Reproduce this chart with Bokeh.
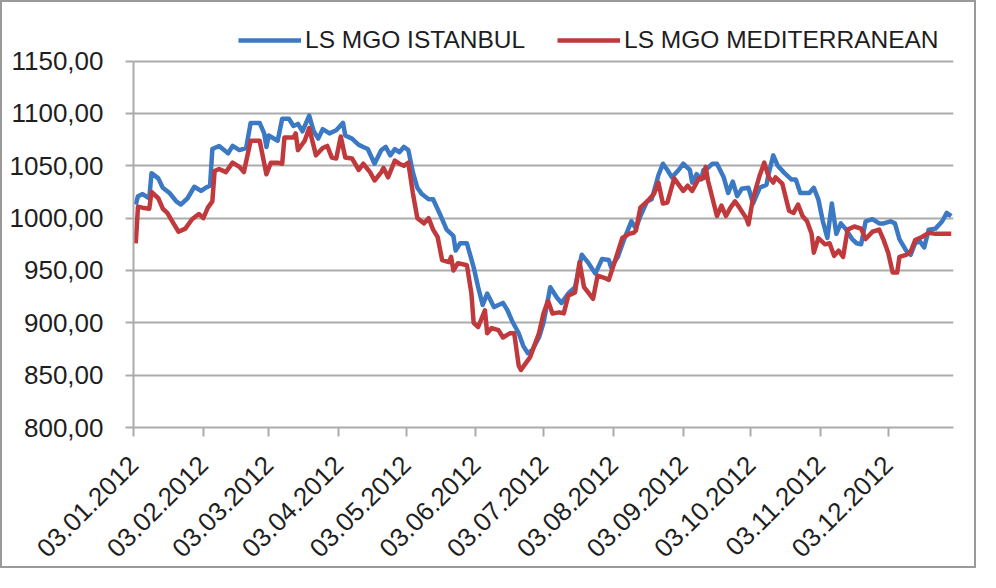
import math
import pandas as pd
from bokeh.plotting import figure
from bokeh.models import Range1d, FixedTicker, DatetimeTickFormatter, Legend, LegendItem
from bokeh.embed import file_html
from bokeh.resources import INLINE

# ---- data ----
ist_dates = ["2012-01-04", "2012-01-05", "2012-01-07", "2012-01-10", "2012-01-11", "2012-01-14", "2012-01-16",
             "2012-01-19", "2012-01-22", "2012-01-24", "2012-01-27", "2012-01-30", "2012-02-02", "2012-02-04",
             "2012-02-06", "2012-02-07", "2012-02-10", "2012-02-14", "2012-02-16", "2012-02-19", "2012-02-22",
             "2012-02-24", "2012-02-28", "2012-03-01", "2012-03-02", "2012-03-03", "2012-03-07", "2012-03-09",
             "2012-03-12", "2012-03-14", "2012-03-16", "2012-03-18", "2012-03-21", "2012-03-23", "2012-03-25",
             "2012-03-27", "2012-03-30", "2012-04-02", "2012-04-05", "2012-04-06", "2012-04-09", "2012-04-12",
             "2012-04-14", "2012-04-16", "2012-04-19", "2012-04-22", "2012-04-24", "2012-04-26", "2012-04-28",
             "2012-04-30", "2012-05-02", "2012-05-04", "2012-05-06", "2012-05-08", "2012-05-10", "2012-05-13",
             "2012-05-15", "2012-05-18", "2012-05-21", "2012-05-24", "2012-05-25", "2012-05-27", "2012-05-30",
             "2012-06-02", "2012-06-04", "2012-06-06", "2012-06-08", "2012-06-11", "2012-06-13", "2012-06-15",
             "2012-06-17", "2012-06-19", "2012-06-22", "2012-06-24", "2012-06-26", "2012-06-28", "2012-07-01",
             "2012-07-03", "2012-07-06", "2012-07-09", "2012-07-11", "2012-07-14", "2012-07-17", "2012-07-20",
             "2012-07-23", "2012-07-26", "2012-07-29", "2012-08-01", "2012-08-02", "2012-08-05", "2012-08-08",
             "2012-08-11", "2012-08-13", "2012-08-15", "2012-08-18", "2012-08-20", "2012-08-22", "2012-08-23",
             "2012-08-25", "2012-08-27", "2012-08-29", "2012-09-01", "2012-09-03", "2012-09-06", "2012-09-07",
             "2012-09-09", "2012-09-11", "2012-09-12", "2012-09-14", "2012-09-16", "2012-09-18", "2012-09-21",
             "2012-09-23", "2012-09-25", "2012-09-27", "2012-09-29", "2012-10-02", "2012-10-04", "2012-10-07",
             "2012-10-10", "2012-10-11", "2012-10-13", "2012-10-15", "2012-10-18", "2012-10-21", "2012-10-23",
             "2012-10-25", "2012-10-29", "2012-10-31", "2012-11-02", "2012-11-04", "2012-11-06", "2012-11-08",
             "2012-11-10", "2012-11-12", "2012-11-14", "2012-11-17", "2012-11-19", "2012-11-21", "2012-11-23",
             "2012-11-26", "2012-11-29", "2012-12-01", "2012-12-04", "2012-12-06", "2012-12-08", "2012-12-11",
             "2012-12-13", "2012-12-15", "2012-12-17", "2012-12-19", "2012-12-21", "2012-12-24", "2012-12-27",
             "2012-12-29", "2012-12-31"]
ist_vals = [1013, 1021, 1023, 1019, 1043, 1038, 1029,
            1024, 1016, 1013, 1019, 1030, 1026, 1029,
            1031, 1066, 1069, 1062, 1069, 1065, 1067,
            1091, 1091, 1081, 1068, 1079, 1074, 1095,
            1095, 1088, 1090, 1083, 1098, 1083, 1076,
            1085, 1081, 1084, 1091, 1079, 1076, 1070,
            1068, 1066, 1052, 1065, 1068, 1060, 1066,
            1063, 1068, 1065, 1044, 1029, 1023, 1018,
            1018, 1004, 989, 983, 969, 976, 976,
            953, 934, 917, 928, 915, 917, 919,
            912, 902, 890, 878, 871, 874, 886,
            900, 934, 924, 919, 928, 934, 965,
            957, 947, 961, 960, 953, 963, 981,
            997, 990, 1002, 1016, 1018, 1033, 1041,
            1052, 1046, 1039, 1046, 1052, 1046, 1034,
            1042, 1037, 1046, 1048, 1052, 1052, 1039,
            1024, 1035, 1021, 1028, 1029, 1014, 1029,
            1032, 1043, 1060, 1050, 1043, 1037, 1037,
            1024, 1024, 1029, 1018, 997, 981, 1014,
            985, 995, 990, 980, 976, 975, 997,
            999, 995, 995, 997, 995, 980, 969,
            965, 976, 978, 972, 989, 990, 997,
            1005, 1002]

med_dates = ["2012-01-04", "2012-01-05", "2012-01-07", "2012-01-10", "2012-01-11", "2012-01-14", "2012-01-16",
             "2012-01-18", "2012-01-21", "2012-01-23", "2012-01-26", "2012-01-29", "2012-02-01", "2012-02-03",
             "2012-02-05", "2012-02-07", "2012-02-08", "2012-02-10", "2012-02-13", "2012-02-16", "2012-02-19",
             "2012-02-21", "2012-02-24", "2012-02-28", "2012-03-02", "2012-03-04", "2012-03-07", "2012-03-09",
             "2012-03-10", "2012-03-14", "2012-03-15", "2012-03-16", "2012-03-19", "2012-03-21", "2012-03-24",
             "2012-03-27", "2012-03-29", "2012-03-31", "2012-04-02", "2012-04-04", "2012-04-06", "2012-04-09",
             "2012-04-12", "2012-04-14", "2012-04-17", "2012-04-19", "2012-04-22", "2012-04-23", "2012-04-25",
             "2012-04-28", "2012-04-30", "2012-05-02", "2012-05-04", "2012-05-06", "2012-05-08", "2012-05-11",
             "2012-05-13", "2012-05-15", "2012-05-17", "2012-05-19", "2012-05-22", "2012-05-23", "2012-05-24",
             "2012-05-26", "2012-05-30", "2012-06-01", "2012-06-02", "2012-06-04", "2012-06-07", "2012-06-08",
             "2012-06-10", "2012-06-13", "2012-06-15", "2012-06-18", "2012-06-20", "2012-06-22", "2012-06-23",
             "2012-06-25", "2012-06-27", "2012-07-01", "2012-07-03", "2012-07-05", "2012-07-07", "2012-07-10",
             "2012-07-12", "2012-07-14", "2012-07-17", "2012-07-19", "2012-07-21", "2012-07-25", "2012-07-27",
             "2012-07-30", "2012-08-01", "2012-08-04", "2012-08-07", "2012-08-10", "2012-08-12", "2012-08-13",
             "2012-08-15", "2012-08-18", "2012-08-21", "2012-08-23", "2012-08-25", "2012-08-27", "2012-08-30",
             "2012-09-03", "2012-09-05", "2012-09-07", "2012-09-10", "2012-09-12", "2012-09-13", "2012-09-14",
             "2012-09-18", "2012-09-20", "2012-09-22", "2012-09-24", "2012-09-26", "2012-09-28", "2012-10-01",
             "2012-10-02", "2012-10-04", "2012-10-07", "2012-10-09", "2012-10-11", "2012-10-13", "2012-10-14",
             "2012-10-17", "2012-10-20", "2012-10-22", "2012-10-24", "2012-10-26", "2012-10-28", "2012-10-30",
             "2012-10-31", "2012-11-02", "2012-11-05", "2012-11-07", "2012-11-09", "2012-11-11", "2012-11-13",
             "2012-11-15", "2012-11-18", "2012-11-21", "2012-11-23", "2012-11-26", "2012-11-29", "2012-12-01",
             "2012-12-03", "2012-12-05", "2012-12-07", "2012-12-08", "2012-12-11", "2012-12-13", "2012-12-15",
             "2012-12-18", "2012-12-21", "2012-12-24", "2012-12-31"]
med_vals = [976, 1011, 1010, 1009, 1025, 1019, 1009,
            1005, 994, 987, 990, 999, 1004, 1000,
            1010, 1016, 1045, 1047, 1044, 1053, 1049,
            1044, 1074, 1074, 1042, 1053, 1053, 1052,
            1077, 1077, 1081, 1065, 1074, 1086, 1060,
            1067, 1069, 1058, 1057, 1078, 1058, 1057,
            1046, 1052, 1044, 1036, 1044, 1048, 1039,
            1055, 1052, 1050, 1053, 1024, 1000, 995,
            1000, 989, 982, 960, 958, 963, 950,
            957, 955, 928, 900, 896, 912, 890,
            895, 893, 886, 890, 890, 859, 855,
            861, 867, 890, 909, 921, 909, 910,
            909, 926, 929, 958, 934, 923, 945,
            943, 941, 961, 981, 985, 986, 988,
            1010, 1016, 1023, 1034, 1014, 1015, 1038,
            1026, 1031, 1026, 1038, 1038, 1049, 1036,
            1002, 1012, 1002, 1010, 1016, 1010, 1000,
            994, 1019, 1041, 1053, 1039, 1034, 1039,
            1033, 1007, 1005, 1013, 1002, 997, 985,
            967, 981, 975, 976, 964, 969, 963,
            989, 992, 990, 980, 987, 989, 979,
            967, 948, 948, 963, 965, 968, 979,
            982, 986, 985, 985]

series_names = ["LS MGO ISTANBUL", "LS MGO MEDITERRANEAN"]
x_tick_dates = ["2012-01-03", "2012-02-03", "2012-03-03", "2012-04-03", "2012-05-03", "2012-06-03",
                "2012-07-03", "2012-08-03", "2012-09-03", "2012-10-03", "2012-11-03", "2012-12-03"]
x_start, x_end = "2012-01-03", "2013-01-01"
y_ticks = [800, 850, 900, 950, 1000, 1050, 1100, 1150]
y_tick_labels = ["800,00", "850,00", "900,00", "950,00", "1000,00", "1050,00", "1100,00", "1150,00"]
y_min, y_axis_max, y_view_max = 800, 1150, 1185   # headroom above 1150 holds the legend

# ---- styling ----
BLUE = "#3c79c4"
RED = "#c0393d"
GRID = "#ababab"
TEXT = "#1e1e1e"
FONT = "Liberation Sans"

epoch = pd.Timestamp("1970-01-01")
def ms(d):
    return (pd.Timestamp(d) - epoch).total_seconds() * 1000.0

p = figure(width=976, height=568, x_axis_type="datetime",
           x_range=Range1d(ms(x_start), ms(x_end)), y_range=Range1d(y_min, y_view_max),
           output_backend="svg", toolbar_location=None,
           min_border_left=131, min_border_right=25, min_border_top=22, min_border_bottom=143)
p.styles = {"border": "2px solid #9a9a9a"}
p.outline_line_color = None
p.background_fill_color = "white"
p.border_fill_color = "white"

r1 = p.line(pd.to_datetime(ist_dates), ist_vals, line_color=BLUE, line_width=4.5, line_join="round")
r2 = p.line(pd.to_datetime(med_dates), med_vals, line_color=RED, line_width=4.5, line_join="round")

# grid
p.xgrid.grid_line_color = None
p.ygrid.grid_line_color = GRID
p.ygrid.grid_line_width = 2

# y axis
p.yaxis.ticker = FixedTicker(ticks=y_ticks)
p.yaxis.bounds = (y_min, y_axis_max)
p.yaxis.major_label_overrides = {t: lab for t, lab in zip(y_ticks, y_tick_labels)}
p.yaxis.axis_line_color = GRID
p.yaxis.axis_line_width = 2
p.yaxis.major_tick_line_color = GRID
p.yaxis.major_tick_line_width = 2
p.yaxis.major_tick_out = 8
p.yaxis.major_tick_in = 0
p.yaxis.minor_tick_line_color = None
p.yaxis.major_label_standoff = 22
p.yaxis.major_label_text_font = FONT
p.yaxis.major_label_text_font_size = "26px"
p.yaxis.major_label_text_color = TEXT

# x axis
fmt = "%d.%m.%Y"
p.xaxis.ticker = FixedTicker(ticks=[ms(d) for d in x_tick_dates])
p.xaxis.formatter = DatetimeTickFormatter(microseconds=fmt, milliseconds=fmt, seconds=fmt, minsec=fmt,
                                          minutes=fmt, hourmin=fmt, hours=fmt, days=fmt, months=fmt, years=fmt)
p.xaxis.major_label_orientation = math.pi / 4
p.xaxis.axis_line_color = GRID
p.xaxis.axis_line_width = 2
p.xaxis.major_tick_line_color = GRID
p.xaxis.major_tick_line_width = 2
p.xaxis.major_tick_out = 9
p.xaxis.major_tick_in = 0
p.xaxis.minor_tick_line_color = None
p.xaxis.major_label_standoff = 24
p.xaxis.major_label_text_font = FONT
p.xaxis.major_label_text_font_size = "26px"
p.xaxis.major_label_text_color = TEXT

# legend (in the headroom above the 1150 line)
legend = Legend(items=[LegendItem(label=series_names[0], renderers=[r1]),
                       LegendItem(label=series_names[1], renderers=[r2])],
                orientation="horizontal", location=(105, 373))
legend.label_text_font = FONT
legend.label_text_font_size = "24.5px"
legend.label_text_color = TEXT
legend.glyph_width = 63
legend.glyph_height = 24
legend.label_standoff = 4
legend.spacing = 32
legend.padding = 0
legend.margin = 0
legend.border_line_color = None
legend.background_fill_alpha = 0
p.add_layout(legend, "center")

open("out.html", "w").write(file_html(p, INLINE))
